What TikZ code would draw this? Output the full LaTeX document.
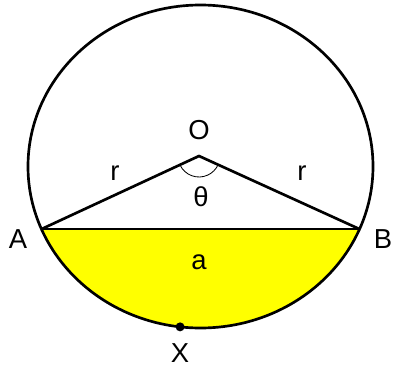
\documentclass[tikz,border=0pt]{standalone}
\usepackage{fontspec}
\setmainfont{Liberation Sans}
\usetikzlibrary{calc}

\begin{document}
\begin{tikzpicture}[x=0.025cm,y=0.025cm,line width=1.9pt,
  font=\fontsize{19.5}{23}\selectfont]
\definecolor{segment}{RGB}{255,255,0}
\useasboundingbox (0,0) rectangle (394,371);

\coordinate (M) at (200.5,204.5);
\coordinate (O) at (199,215);
\coordinate (A) at ($(M)+(202.8:172.5 and 161.5)$);
\coordinate (B) at ($(M)+(337.2:172.5 and 161.5)$);
\coordinate (X) at ($(M)+(263.2:172.5 and 161.5)$);

% Shaded segment below the chord.
\fill[segment] (A) arc[start angle=202.8,end angle=337.2,
  x radius=172.5,y radius=161.5] -- cycle;

% Circle, chord and the two radii.
\draw (M) ellipse[x radius=172.5,y radius=161.5];
\draw (A)--(B);
\draw (A)--(O)--(B);

% Angle at the centre.
\draw[line width=0.6pt] (O) ++(205:21) arc[start angle=205,end angle=335,radius=21];

\fill (X) circle (4.5);
\node (lO) at (199,241) {O};
\node (lr1) at (115,198) {r};
\node (lr2) at (302,198) {r};
\node (lth) at (201,174) {θ};
\node (lA) at (18,132) {A};
\node (lB) at (383,132) {B};
\node (la) at (199,109) {a};
\node (lX) at (180,18) {X};
\end{tikzpicture}
\end{document}
